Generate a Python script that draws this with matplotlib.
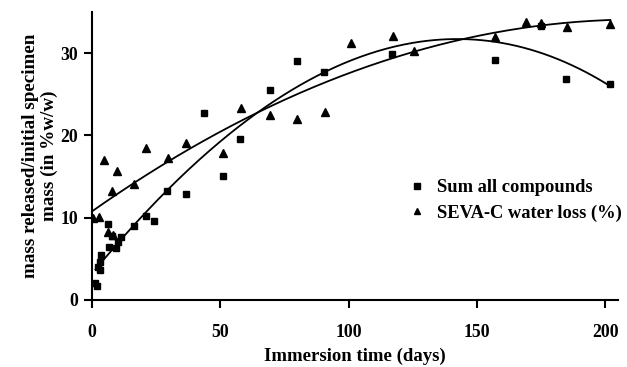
import numpy as np
import matplotlib.pyplot as plt

plt.rcParams['font.family'] = ['Liberation Serif', 'DejaVu Serif']
plt.rcParams['font.weight'] = 'bold'

# Sum all compounds (squares)
sum_days = [1.2, 2.0, 2.5, 3.0, 3.3, 3.5, 6.1, 6.6, 7.9, 9.3, 10.2, 11.5,
            16.3, 20.9, 24.1, 29.3, 36.6, 43.8, 51.1, 57.7, 69.4, 79.8,
            90.5, 117.0, 156.9, 175.0, 184.8, 202.0]
sum_vals = [2.1, 1.7, 4.0, 3.6, 4.6, 5.5, 9.2, 6.4, 7.8, 6.3, 7.1, 7.6,
            9.0, 10.2, 9.6, 13.2, 12.9, 22.7, 15.1, 19.6, 25.5, 29.0,
            27.7, 29.9, 29.2, 33.3, 26.9, 26.3]

# SEVA-C water loss (triangles)
seva_days = [0.3, 2.6, 4.7, 6.1, 7.9, 8.3, 9.9, 16.5, 21.0, 29.6, 36.8,
             51.1, 58.0, 69.5, 79.9, 90.7, 101.0, 117.3, 125.3, 157.0,
             169.0, 175.0, 185.0, 202.0]
seva_vals = [10.0, 10.1, 17.0, 8.3, 13.3, 7.9, 15.7, 14.1, 18.5, 17.3, 19.1,
             17.9, 23.3, 22.5, 22.0, 22.8, 31.2, 32.1, 30.2, 32.0,
             33.8, 33.6, 33.2, 33.5]

fig = plt.figure(figsize=(6.27, 3.67), dpi=100)
ax = fig.add_axes([0.1467, 0.1826, 0.839, 0.785])

# trend lines (polynomial fits like the spreadsheet)
xs = np.linspace(0, 202, 300)
p_sum = np.polyfit(sum_days, sum_vals, 3)
p_seva = np.polyfit(seva_days, seva_vals, 2)
ax.plot(xs[xs >= 1], np.polyval(p_sum, xs[xs >= 1]), color='black', lw=1.3)
ax.plot(xs, np.polyval(p_seva, xs), color='black', lw=1.3)

ax.plot(sum_days, sum_vals, 's', color='black', ms=5, label='Sum all compounds')
ax.plot(seva_days, seva_vals, '^', color='black', ms=6, label='SEVA-C water loss (%)')

ax.set_xlim(0, 205)
ax.set_ylim(0, 35)
ax.set_xticks([0, 50, 100, 150, 200])
ax.set_yticks([0, 10, 20, 30])
for s in ['top', 'right']:
    ax.spines[s].set_visible(False)
for s in ['left', 'bottom']:
    ax.spines[s].set_linewidth(1.5)
ax.tick_params(direction='out', length=6, width=1.5, labelsize=12.8)
ax.tick_params(axis='x', pad=11)
ax.tick_params(axis='y', pad=4)
ax.set_xlabel('Immersion time (days)', fontsize=13.5, fontweight='bold', labelpad=5)
ax.set_ylabel('mass released/initial specimen\nmass (in %w/w)', fontsize=13.8,
              fontweight='bold', labelpad=1.5, linespacing=1.12)

leg = ax.legend(loc='center left', bbox_to_anchor=(0.579, 0.345), frameon=False,
                fontsize=13.3, handlelength=1.2, handletextpad=0.5,
                labelspacing=0.45, markerscale=0.75, borderpad=0)

fig.savefig('out.png', dpi=100)
